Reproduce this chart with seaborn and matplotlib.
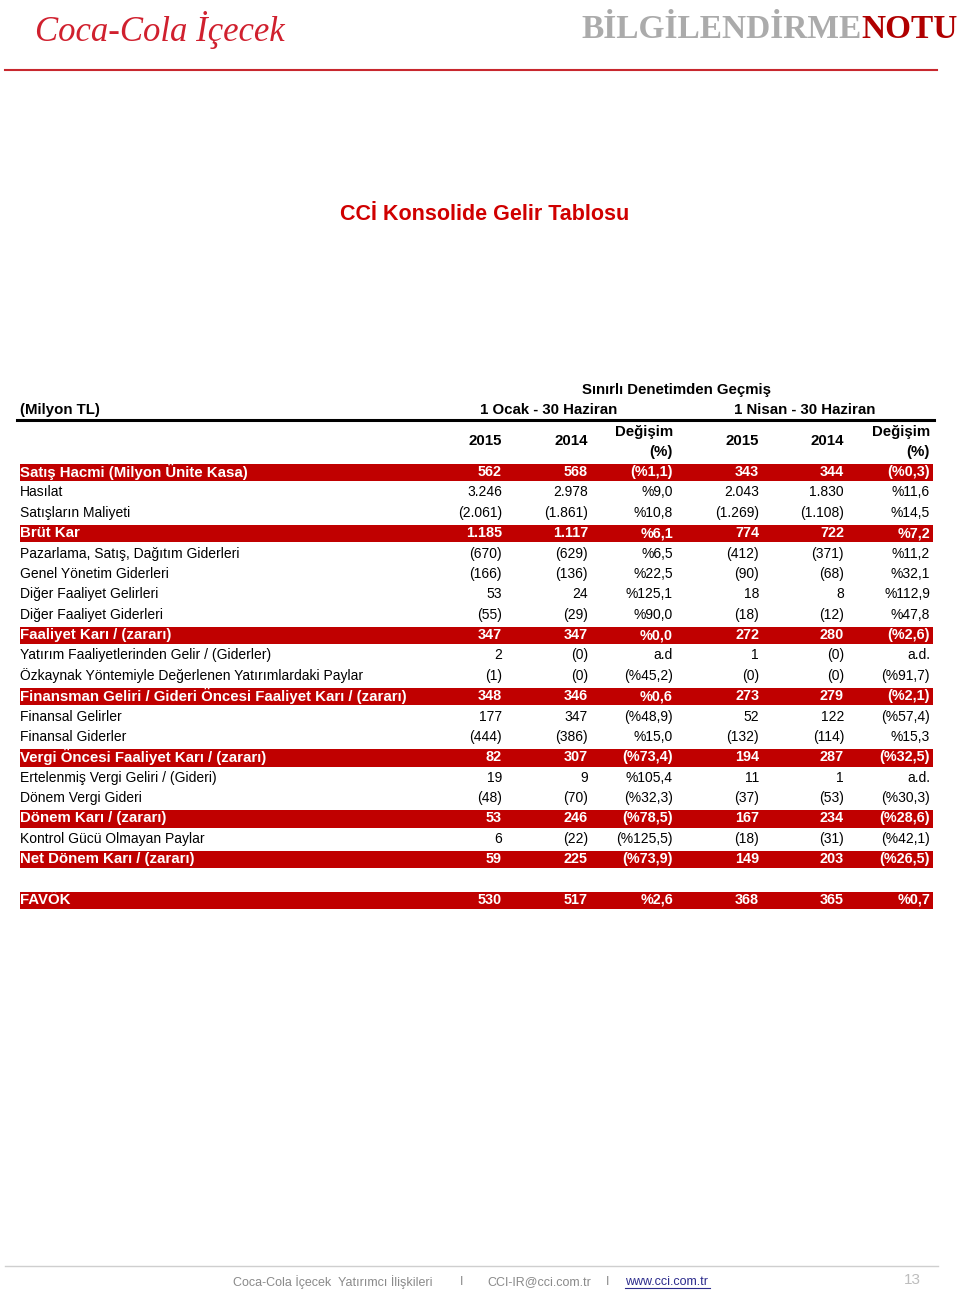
import numpy as np
import matplotlib
matplotlib.use("Agg")
import matplotlib.pyplot as plt
from matplotlib.colors import ListedColormap
import seaborn as sns

# Table data (Milyon TL)
labels = ["Satış Hacmi (Milyon Ünite Kasa)", "Hasılat", "Satışların Maliyeti", "Brüt Kar",
          "Pazarlama, Satış, Dağıtım Giderleri", "Genel Yönetim Giderleri",
          "Diğer Faaliyet Gelirleri", "Diğer Faaliyet Giderleri", "Faaliyet Karı / (zararı)",
          "Yatırım Faaliyetlerinden Gelir / (Giderler)",
          "Özkaynak Yöntemiyle Değerlenen Yatırımlardaki Paylar",
          "Finansman Geliri / Gideri Öncesi Faaliyet Karı / (zararı)",
          "Finansal Gelirler", "Finansal Giderler", "Vergi Öncesi Faaliyet Karı / (zararı)",
          "Ertelenmiş Vergi Geliri / (Gideri)", "Dönem Vergi Gideri", "Dönem Karı / (zararı)",
          "Kontrol Gücü Olmayan Paylar", "Net Dönem Karı / (zararı)", "", "FAVÖK"]
h1_2015 = ["562", "3.246", "(2.061)", "1.185", "(670)", "(166)", "53", "(55)", "347", "2", "(1)",
           "348", "177", "(444)", "82", "19", "(48)", "53", "6", "59", "", "530"]
h1_2014 = ["568", "2.978", "(1.861)", "1.117", "(629)", "(136)", "24", "(29)", "347", "(0)", "(0)",
           "346", "347", "(386)", "307", "9", "(70)", "246", "(22)", "225", "", "517"]
h1_chg = ["(%1,1)", "%9,0", "%10,8", "%6,1", "%6,5", "%22,5", "%125,1", "%90,0", "%0,0", "a.d",
          "(%45,2)", "%0,6", "(%48,9)", "%15,0", "(%73,4)", "%105,4", "(%32,3)", "(%78,5)",
          "(%125,5)", "(%73,9)", "", "%2,6"]
q2_2015 = ["343", "2.043", "(1.269)", "774", "(412)", "(90)", "18", "(18)", "272", "1", "(0)",
           "273", "52", "(132)", "194", "11", "(37)", "167", "(18)", "149", "", "368"]
q2_2014 = ["344", "1.830", "(1.108)", "722", "(371)", "(68)", "8", "(12)", "280", "(0)", "(0)",
           "279", "122", "(114)", "287", "1", "(53)", "234", "(31)", "203", "", "365"]
q2_chg = ["(%0,3)", "%11,6", "%14,5", "%7,2", "%11,2", "%32,1", "%112,9", "%47,8", "(%2,6)", "a.d.",
          "(%91,7)", "(%2,1)", "(%57,4)", "%15,3", "(%32,5)", "a.d.", "(%30,3)", "(%28,6)",
          "(%42,1)", "(%26,5)", "", "%0,7"]
highlight = [1, 0, 0, 1, 0, 0, 0, 0, 1, 0, 0, 1, 0, 0, 1, 0, 0, 1, 0, 1, 0, 1]

col_headers = ["2015", "2014", "Değişim", "2015", "2014", "Değişim"]

RED = "#C00000"
W, H = 960, 1294
plt.rcParams["font.family"] = ["Liberation Sans", "DejaVu Sans"]

fig = plt.figure(figsize=(W / 100, H / 100), dpi=100)

# table geometry (pixels)
row0, step = 472, 20.38
n = len(labels)
top = row0 - step / 2
bottom = row0 + (n - 1) * step + step / 2
left, right = 18, 934

# red row bands through a one-column heatmap
hax = fig.add_axes([left / W, 1 - bottom / H, (right - left) / W, (bottom - top) / H])
sns.heatmap(np.array(highlight).reshape(-1, 1), ax=hax, cmap=ListedColormap(["white", RED]),
            vmin=0, vmax=1, cbar=False, linewidths=1.0, linecolor="white",
            xticklabels=False, yticklabels=False)
hax.set_axis_off()

# overlay axis in pixel coordinates
ax = fig.add_axes([0, 0, 1, 1])
ax.set_zorder(2)
ax.patch.set_visible(False)
ax.set_xlim(0, W)
ax.set_ylim(H, 0)
ax.set_axis_off()

# header: logo + title
ax.text(35, 30, "Coca-Cola İçecek", family="Liberation Serif", style="italic",
        fontsize=25, color="#D0202E", va="center", ha="left")
notu = ax.text(958, 29, "NOTU", family="Liberation Serif", weight="bold", fontsize=24,
               color="#B00000", va="center", ha="right")
ax.annotate("BİLGİLENDİRME", xy=(0, 0.5), xycoords=notu, family="Liberation Serif",
            weight="bold", fontsize=24, color="#ABABAB", va="center", ha="right")
ax.plot([5, 937], [70, 70], color="#C8282E", lw=1.5)

ax.text(485, 215, "CCİ Konsolide Gelir Tablosu", ha="center", va="center",
        fontsize=15.5, weight="bold", color="#D00000")

# column header block
bkw = dict(va="center", fontsize=10.8, weight="bold")
ax.text(676, 390, "Sınırlı Denetimden Geçmiş", ha="center", **bkw)
ax.text(20, 410, "(Milyon TL)", ha="left", **bkw)
ax.text(549, 410, "1 Ocak - 30 Haziran", ha="center", **bkw)
ax.text(805, 410, "1 Nisan - 30 Haziran", ha="center", **bkw)
ax.plot([17, 934], [420, 420], color="black", lw=2.2)

col_x = [502, 588, 673, 759, 844, 930]
for x, h in zip(col_x, col_headers):
    if h == "Değişim":
        ax.text(x, 432, h, ha="right", **bkw)
        ax.text(x, 452, "(%)", ha="right", **bkw)
    else:
        ax.text(x, 441, h, ha="right", **bkw)

# table body
columns = [h1_2015, h1_2014, h1_chg, q2_2015, q2_2014, q2_chg]
for i, lab in enumerate(labels):
    y = row0 + i * step
    hl = highlight[i] == 1
    color = "white" if hl else "black"
    weight = "bold" if hl else "normal"
    ax.text(20, y, lab, ha="left", va="center", fontsize=10.8 if hl else 10,
            color=color, weight=weight)
    for x, col in zip(col_x, columns):
        ax.text(x, y, col[i], ha="right", va="center", fontsize=10.4 if hl else 10,
                color=color, weight=weight)

# footer
ax.plot([5, 938], [1266, 1266], color="#CFCFCF", lw=1)
fkw = dict(va="center", fontsize=9, color="#8A8A8A")
ax.text(233, 1282, "Coca-Cola İçecek  Yatırımcı İlişkileri", ha="left", **fkw)
ax.text(462, 1282, "I", ha="center", **fkw)
ax.text(487, 1282, "CCI-IR@cci.com.tr", ha="left", **fkw)
ax.text(608, 1282, "I", ha="center", **fkw)
ax.text(625, 1282, "www.cci.com.tr", ha="left", va="center", fontsize=9, color="#2B2B8C")
ax.plot([625, 710], [1288, 1288], color="#2B2B8C", lw=0.8)
ax.text(912, 1280, "13", ha="center", va="center", fontsize=11, color="#BDBDBD")

fig.savefig("out.png", dpi=100)
